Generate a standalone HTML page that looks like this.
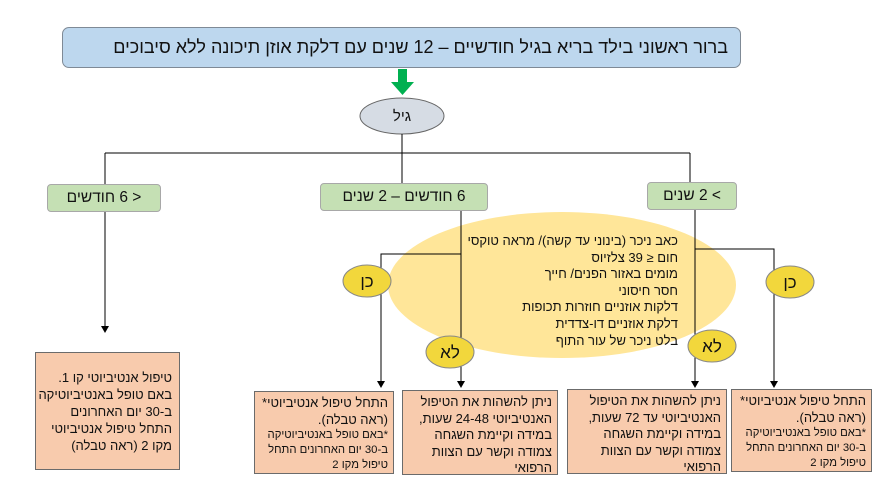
<!DOCTYPE html>
<html><head><meta charset="utf-8"><style>
body{margin:0;width:875px;height:478px;background:#fff;position:relative;overflow:hidden;font-family:"Liberation Sans","Noto Sans CJK SC",sans-serif;color:#111}
.b{position:absolute;box-sizing:border-box;direction:rtl}
.t{position:absolute;direction:rtl;white-space:nowrap}
.o{background:#f8cbad;border:1.3px solid #6b6b6b;font-size:13px;line-height:16.5px;padding:3px 5px 0 2px;text-align:right;white-space:nowrap}
.o small{font-size:11.3px;line-height:15px;display:block}
.g{background:#c5e0b4;border:1px solid #a8a8a8;border-radius:4px;font-size:15.5px;text-align:center;line-height:26px}
</style></head><body>
<svg width="875" height="478" style="position:absolute;left:0;top:0">
<ellipse cx="562" cy="285" rx="174" ry="73" fill="#ffe699"/>
<ellipse cx="402" cy="116" rx="42" ry="18" fill="#d6dce4" stroke="#666" stroke-width="1"/>
<rect x="398" y="69" width="9" height="14" fill="#00b050"/>
<path d="M391,82 L414,82 L402.5,95 z" fill="#00b050"/>
<g stroke="#000" stroke-width="1" fill="none">
<path d="M402,134 V153 M105,153 H690 M105,153 V184 M402,153 V183 M690,153 V182"/>
<path d="M105,212 V327"/>
<path d="M461,210 V382 M461,254 H381 V382"/>
<path d="M695,209 V382 M695,249 H774 V382"/>
</g>
<g fill="#000">
<path d="M101,326 L109,326 L105,333 z"/>
<path d="M457,381 L465,381 L461,388 z"/>
<path d="M377,381 L385,381 L381,388 z"/>
<path d="M691,381 L699,381 L695,388 z"/>
<path d="M770,381 L778,381 L774,388 z"/>
</g>
<g fill="#f2d73c" stroke="#888" stroke-width="1">
<ellipse cx="367" cy="281" rx="24" ry="16"/>
<ellipse cx="790" cy="282" rx="24" ry="16"/>
<ellipse cx="450" cy="352" rx="24" ry="16"/>
<ellipse cx="712" cy="346" rx="24" ry="16"/>
</g>
<g font-family="Liberation Sans, Noto Sans CJK SC, sans-serif" font-size="17" text-anchor="middle" fill="#111">
<text x="367" y="287">כן</text><text x="790" y="288">כן</text>
<text x="450" y="358">לא</text><text x="712" y="352">לא</text>
<text x="402" y="121" font-size="15">גיל</text>
</g>
</svg>
<div class="b" style="left:62px;top:27px;width:679px;height:41px;background:#bdd7ee;border:1px solid #7f8a96;border-radius:7px;font-size:18px;line-height:39px;padding-right:12px;text-align:right">ברור ראשוני בילד בריא בגיל חודשיים – 12 שנים עם דלקת אוזן תיכונה ללא סיבוכים</div>
<div class="b g" style="left:47px;top:184px;width:114px;height:28px">&lt; 6 חודשים</div>
<div class="b g" style="left:320px;top:183px;width:168px;height:28px">6 חודשים – 2 שנים</div>
<div class="b g" style="left:647px;top:182px;width:90px;height:28px">&gt; 2 שנים</div>
<div class="t" style="right:197px;top:233px;font-size:13px;line-height:16.6px;text-align:right">כאב ניכר (בינוני עד קשה)/ מראה טוקסי<br>חום ≤ 39 צלזיוס<br>מומים באזור הפנים/ חייך<br>חסר חיסוני<br>דלקות אוזניים חוזרות תכופות<br>דלקת אוזניים דו-צדדית<br>בלט ניכר של עור התוף</div>
<div class="b o" style="left:35px;top:352px;width:145px;height:118px;padding-top:16px;padding-right:7px;font-size:13px;line-height:17px">טיפול אנטיביוטי קו 1.<br>באם טופל באנטיביוטיקה<br>ב-30 יום האחרונים<br>התחל טיפול אנטיביוטי<br>מקו 2 (ראה טבלה)</div>
<div class="b o" style="left:254px;top:391px;width:140px;height:83px">התחל טיפול אנטיביוטי*<br>(ראה טבלה).<small>*באם טופל באנטיביוטיקה<br>ב-30 יום האחרונים התחל<br>טיפול מקו 2</small></div>
<div class="b o" style="left:402px;top:390px;width:156px;height:85px">ניתן להשהות את הטיפול<br>האנטיביוטי 24-48 שעות,<br>במידה וקיימת השגחה<br>צמודה וקשר עם הצוות<br>הרפואי</div>
<div class="b o" style="left:567px;top:389px;width:160px;height:85px">ניתן להשהות את הטיפול<br>האנטיביוטי עד 72 שעות,<br>במידה וקיימת השגחה<br>צמודה וקשר עם הצוות<br>הרפואי</div>
<div class="b o" style="left:731px;top:389px;width:141px;height:83px">התחל טיפול אנטיביוטי*<br>(ראה טבלה).<small>*באם טופל באנטיביוטיקה<br>ב-30 יום האחרונים התחל<br>טיפול מקו 2</small></div>
</body></html>
